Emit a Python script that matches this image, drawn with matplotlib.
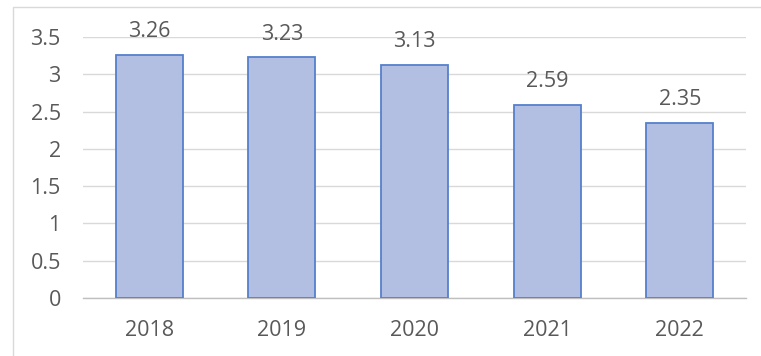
import matplotlib
matplotlib.use("Agg")
import matplotlib.pyplot as plt
from matplotlib.patches import Rectangle

years = ["2018", "2019", "2020", "2021", "2022"]
values = [3.26, 3.23, 3.13, 2.59, 2.35]
y_ticks = [0, 0.5, 1, 1.5, 2, 2.5, 3, 3.5]
y_tick_labels = ["0", "0.5", "1", "1.5", "2", "2.5", "3", "3.5"]

plt.rcParams['font.family'] = ['Open Sans', 'DejaVu Sans']

W, H = 761, 356
fig = plt.figure(figsize=(W / 100, H / 100), dpi=100)
fig.patch.set_facecolor("white")

# chart area border
fig.patches.append(Rectangle((13 / W, -0.1), 1.2, 1 - 7 / H + 0.1, transform=fig.transFigure,
                             fill=False, edgecolor="#d9d9d9", linewidth=1.0, zorder=0))

ax = fig.add_axes([83 / W, 1 - 298 / H, (746 - 83) / W, (298 - 37) / H])
ax.set_facecolor("none")

x = list(range(len(years)))
ax.bar(x, values, width=0.505, color="#b2bfe3", edgecolor="#5580cc", linewidth=1.3, zorder=3)

for xi, v in zip(x, values):
    ax.annotate(f"{v:.2f}", (xi, v), xytext=(0, 9), textcoords="offset points",
                ha="center", va="bottom", fontsize=15.5, color="#595959")

ax.set_xlim(-0.5, len(years) - 0.5)
ax.set_ylim(0, 3.5)
ax.set_yticks(y_ticks)
ax.set_yticklabels(y_tick_labels)
ax.set_xticks(x)
ax.set_xticklabels(years)
ax.tick_params(axis="both", length=0, labelsize=15.5, labelcolor="#595959")
ax.tick_params(axis="y", pad=16)
ax.tick_params(axis="x", pad=16)
ax.grid(axis="y", color="#d9d9d9", linewidth=1.0, zorder=0)
for s in ["top", "right", "left"]:
    ax.spines[s].set_visible(False)
ax.spines["bottom"].set_color("#bfbfbf")
ax.spines["bottom"].set_linewidth(1.0)

fig.savefig("out.png", dpi=100)
